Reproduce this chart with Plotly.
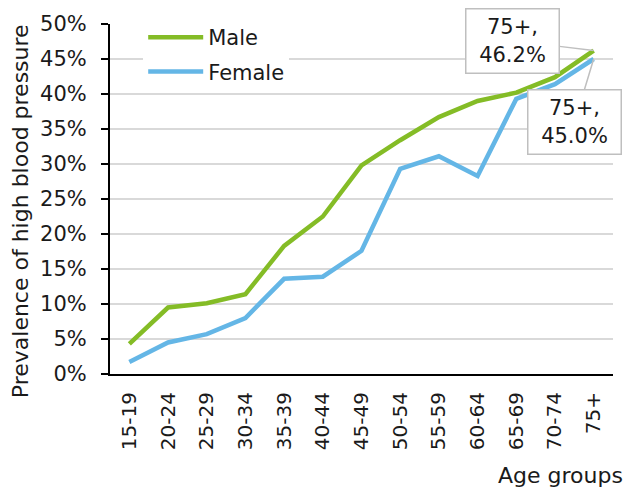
import plotly.graph_objects as go

age_groups = ["15-19", "20-24", "25-29", "30-34", "35-39", "40-44", "45-49",
              "50-54", "55-59", "60-64", "65-69", "70-74", "75+"]
male = [0.043, 0.095, 0.101, 0.114, 0.183, 0.225, 0.298, 0.334, 0.367, 0.390, 0.402, 0.424, 0.462]
female = [0.017, 0.045, 0.057, 0.080, 0.136, 0.139, 0.176, 0.293, 0.311, 0.283, 0.393, 0.414, 0.450]

FONT = "DejaVu Sans"
TXT = "#1a1a1a"
GREEN = "#84bc26"
BLUE = "#64b6e6"
FS = 21

fig = go.Figure()
fig.add_trace(go.Scatter(x=age_groups, y=male, mode="lines", name="Male",
                         line=dict(color=GREEN, width=4.5), legendgroup="m"))
fig.add_trace(go.Scatter(x=age_groups, y=female, mode="lines", name="Female",
                         line=dict(color=BLUE, width=4.5), legendgroup="f"))

box = dict(showarrow=True, arrowhead=0, arrowcolor="#bfbfbf", arrowwidth=1.5,
           bgcolor="white", bordercolor="#bfbfbf", borderwidth=1.5,
           borderpad=4, width=84, height=55,
           font=dict(family=FONT, size=FS, color=TXT), align="center", valign="middle")
fig.add_annotation(x=age_groups[-1], y=male[-1], xref="x", yref="y",
                   text=f"{age_groups[-1]},<br>{male[-1]*100:.1f}%",
                   ax=-81, ay=-10, **box)
fig.add_annotation(x=age_groups[-1], y=female[-1], xref="x", yref="y",
                   text=f"{age_groups[-1]},<br>{female[-1]*100:.1f}%",
                   ax=-19, ay=63, **box)

fig.add_annotation(text="Prevalence of high blood pressure", xref="paper", yref="paper",
                   x=-0.179, y=0.465, xanchor="center", yanchor="middle", textangle=-90,
                   showarrow=False, font=dict(family=FONT, size=22, color=TXT))
fig.add_annotation(text="Age groups", xref="paper", yref="paper",
                   x=1.024, y=-0.29, xanchor="right", yanchor="middle",
                   showarrow=False, font=dict(family=FONT, size=22, color=TXT))

fig.update_layout(
    width=627, height=493,
    margin=dict(l=110, r=14, t=21, b=119),
    paper_bgcolor="white", plot_bgcolor="white",
    font=dict(family=FONT, size=FS, color=TXT),
    showlegend=True,
    legend=dict(x=0.066, y=1.02, xanchor="left", yanchor="top", bgcolor="white",
                traceorder="grouped", tracegroupgap=4, itemwidth=55,
                font=dict(family=FONT, size=FS, color=TXT)),
)
fig.update_xaxes(type="category", range=[-0.5, 12.5], showline=True, linecolor="black",
                 linewidth=2, showgrid=False, ticks="", tickangle=-90, ticklabelstandoff=8,
                 tickfont=dict(family=FONT, size=20, color=TXT))
fig.update_yaxes(range=[0, 0.5], dtick=0.05, tickformat=".0%", showgrid=True,
                 gridcolor="#d9d9d9", gridwidth=1.5, showline=True, linecolor="black",
                 linewidth=2, ticks="outside", ticklen=7, tickcolor="black", tickwidth=2,
                 ticklabelstandoff=10, zeroline=False,
                 tickfont=dict(family=FONT, size=FS, color=TXT))

fig.write_html("out.html", config={"displayModeBar": False},
               post_script="document.body.style.margin='0px';")
